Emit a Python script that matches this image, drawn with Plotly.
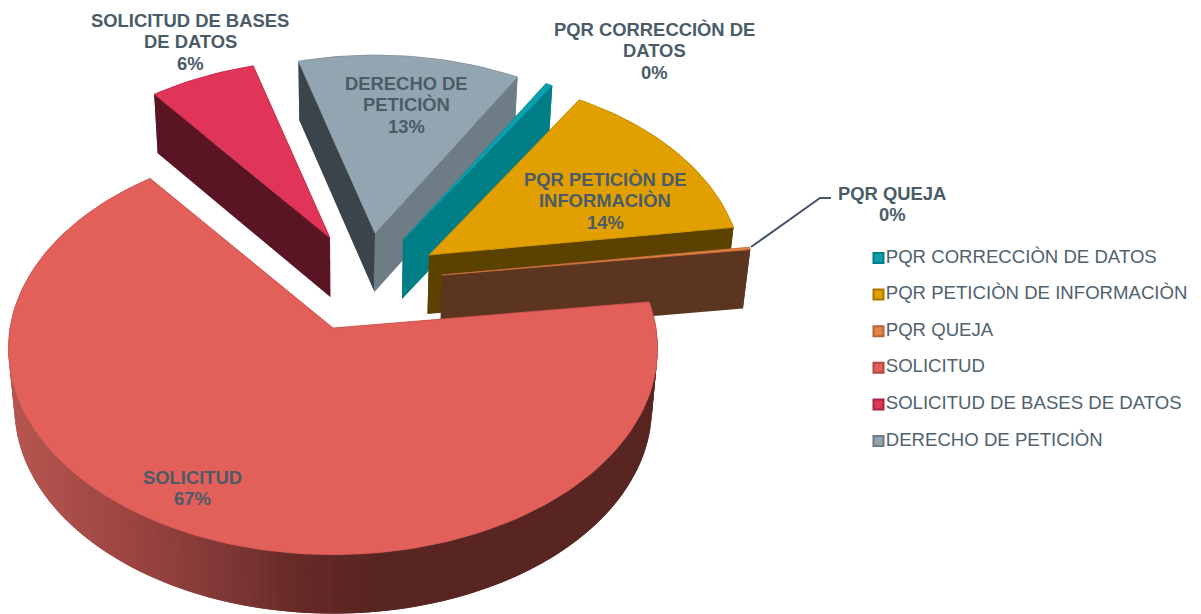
import numpy as np
import plotly.graph_objects as go

# ---- data ----
categories = ["PQR CORRECCIÒN DE DATOS", "PQR PETICIÒN DE INFORMACIÒN", "PQR QUEJA",
              "SOLICITUD", "SOLICITUD DE BASES DE DATOS", "DERECHO DE PETICIÒN"]
values = [0.4, 14.0, 0.2, 66.6, 6.1, 12.7]
label_lines = [["PQR CORRECCIÒN DE", "DATOS"], ["PQR PETICIÒN DE", "INFORMACIÒN"], ["PQR QUEJA"],
               ["SOLICITUD"], ["SOLICITUD DE BASES", "DE DATOS"], ["DERECHO DE", "PETICIÒN"]]

# ---- styles ----
top_colors = ["#0C9FAE", "#E2A000", "#E58344", "#E35F5A", "#E03558", "#93A5B1"]
edge_colors = ["#0A8F9C", "#C48C00", "#C9703A", "#D25550", "#C92E4E", "#85969F"]
start_wall = ["#007E86", "#5C4200", "#5C3520", "#582522", "#5A1524", "#3B444B"]
end_wall = ["#007E86", "#5C4200", "#5C3520", "#582522", "#5A1524", "#6E7C85"]
legend_fill = top_colors
legend_line = ["#007E86", "#A87800", "#B0653A", "#AE4A46", "#A82742", "#6E7C85"]
text_color = "#4A5C68"
FONT = "Liberation Sans, Arial, sans-serif"

# ---- geometry of the projected pie (pixels) ----
START_ANGLE = 30.0
A, B, K, DEPTH = 323.0, 204.0, 0.10, 59.0
CY0 = 328.0
LOWER_CX, LOWER_SCALE = 345.0, 0.982
apex = [(403, 240), (429, 255), (442, 275), (333, 328), (330, 238), (375, 233)]
label_pos = [(654, 29), (605, 179), (892, 193), (192, 477), (190, 20), (406, 83)]
LINE_PITCH = 21.7
draw_order = [4, 5, 0, 1, 2, 3]
leader_x, leader_y = [751, 820, 831], [247, 198, 198]
legend_x, legend_y0, legend_pitch = 878.5, 258, 36.6
rim_stops_x = [0, 20, 130, 230, 300, 380, 700]
rim_stops_rgb = [(184, 86, 81), (181, 84, 79), (156, 69, 65), (126, 55, 53), (102, 42, 39), (88, 37, 34), (88, 37, 34)]


def project(i, theta_deg):
    th = np.radians(theta_deg)
    u, v = np.sin(th), -np.cos(th)
    v0 = (apex[i][1] - CY0) / B
    s = 1.0 / (1.0 - K * (v + v0))
    return apex[i][0] + A * u * s, apex[i][1] + B * v * s


def lower(x):
    return LOWER_CX + (np.asarray(x, dtype=float) - LOWER_CX) * LOWER_SCALE


def add_poly(fig, xs, ys, fill, line=None, width=0.0):
    fig.add_trace(go.Scatter(x=list(xs), y=list(ys), mode="lines", fill="toself", fillcolor=fill,
                             line=dict(color=line or fill, width=width), hoverinfo="skip",
                             showlegend=False))


total = sum(values)
edges = START_ANGLE + np.concatenate([[0], np.cumsum(values)]) / total * 360.0

fig = go.Figure()
for i in draw_order:
    t0, t1 = edges[i], edges[i + 1]
    thetas = np.linspace(t0, t1, max(3, int((t1 - t0) / 1.5) + 2))
    px, py = zip(*[project(i, t) for t in thetas])
    px, py = np.array(px), np.array(py)
    ax, ay = apex[i]
    lx, lax = lower(px), float(lower(ax))
    # rim: shaded in overlapping steps on the main slice so no seams appear
    if i == 3:
        n = len(px)
        for j in range(n - 1):
            k2 = min(j + 2, n - 1)
            mx = (px[j] + px[j + 1]) / 2
            rgb = [int(np.interp(mx, rim_stops_x, [c[k] for c in rim_stops_rgb])) for k in range(3)]
            col = "rgb(%d,%d,%d)" % tuple(rgb)
            add_poly(fig, np.r_[px[j:k2 + 1], lx[j:k2 + 1][::-1]],
                     np.r_[py[j:k2 + 1], py[j:k2 + 1][::-1] + DEPTH], col)
    else:
        add_poly(fig, np.r_[px, lx[::-1]], np.r_[py, py[::-1] + DEPTH], end_wall[i])
    # radial walls
    add_poly(fig, [ax, px[-1], lx[-1], lax], [ay, py[-1], py[-1] + DEPTH, ay + DEPTH], end_wall[i])
    add_poly(fig, [ax, px[0], lx[0], lax], [ay, py[0], py[0] + DEPTH, ay + DEPTH], start_wall[i])
    # top
    add_poly(fig, np.r_[ax, px, ax], np.r_[ay, py, ay], top_colors[i], edge_colors[i], 0.8)

# leader line
fig.add_trace(go.Scatter(x=leader_x, y=leader_y, mode="lines", line=dict(color="#44546A", width=2),
                         hoverinfo="skip", showlegend=False))

# legend: swatch and name per category, placed to sit tight like the reference
for i, name in enumerate(categories):
    fig.add_trace(go.Scatter(x=[legend_x], y=[legend_y0 + i * legend_pitch], mode="markers+text",
                             name=name, text=[name], textposition="middle right",
                             textfont=dict(family=FONT, size=18.6, color="#4F626E"),
                             marker=dict(symbol="square", size=10, color=legend_fill[i],
                                         line=dict(color=legend_line[i], width=2)),
                             hoverinfo="name", showlegend=False, cliponaxis=False))

# data labels
for i, lines in enumerate(label_lines):
    pct = "%d%%" % round(values[i] / total * 100)
    x, y = label_pos[i]
    for n, txt in enumerate(lines + [pct]):
        fig.add_annotation(x=x, y=y + n * LINE_PITCH, text="<b>%s</b>" % txt, showarrow=False,
                           xanchor="center", yanchor="middle",
                           font=dict(family=FONT, size=18.4, color=text_color))

fig.update_layout(
    width=1201, height=614, margin=dict(l=0, r=0, t=0, b=0),
    paper_bgcolor="white", plot_bgcolor="white",
    xaxis=dict(range=[0, 1201], visible=False, fixedrange=True),
    yaxis=dict(range=[614, 0], visible=False, fixedrange=True),
    showlegend=False,
)
fig.write_html("out.html", config=dict(displayModeBar=False),
               post_script="document.body.style.margin='0';document.documentElement.style.overflow='hidden';")
